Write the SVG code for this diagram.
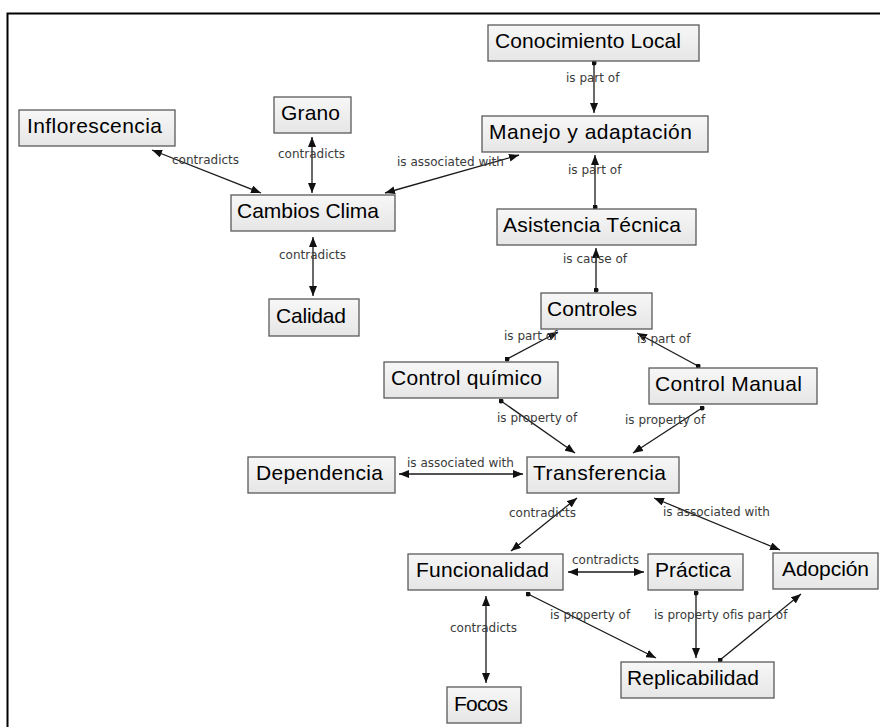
<svg xmlns="http://www.w3.org/2000/svg" width="880" height="727" viewBox="0 0 880 727">
<style>
.n rect{fill:url(#g);stroke:#5a5a5a;stroke-width:1.3}
.n text{font-family:"Liberation Sans",Arial,sans-serif;font-size:21px;fill:#000}
.e line{stroke:#1a1a1a;stroke-width:1.3;fill:none}
.l{font-family:"DejaVu Sans",sans-serif;font-size:12px;fill:#3a3a3a}
</style>
<defs>
<linearGradient id="g" x1="0" y1="0" x2="0" y2="1"><stop offset="0" stop-color="#f7f7f7"/><stop offset="1" stop-color="#e6e6e6"/></linearGradient>
<marker id="a" viewBox="0 0 10 8" refX="10" refY="4" markerWidth="10" markerHeight="8" markerUnits="userSpaceOnUse" orient="auto-start-reverse"><path d="M0,0 L10,4 L0,8 z" fill="#111"/></marker>
<marker id="d" viewBox="0 0 6 6" refX="3" refY="3" markerWidth="5" markerHeight="5" markerUnits="userSpaceOnUse"><circle cx="3" cy="3" r="3" fill="#111"/></marker>
</defs>
<rect width="880" height="727" fill="#fff"/>
<path d="M7.5,727 V13.5 H880" fill="none" stroke="#000" stroke-width="2"/>
<g class="e" id="connectors">
<line x1="152" y1="150" x2="261" y2="193" marker-start="url(#a)" marker-end="url(#a)"/>
<line x1="312" y1="137" x2="312" y2="193" marker-start="url(#a)" marker-end="url(#a)"/>
<line x1="385" y1="193" x2="519" y2="155" marker-start="url(#a)" marker-end="url(#a)"/>
<line x1="313" y1="237" x2="313" y2="296" marker-start="url(#a)" marker-end="url(#a)"/>
<line x1="594" y1="63" x2="594" y2="113" marker-start="url(#d)" marker-end="url(#a)"/>
<line x1="595" y1="207" x2="595" y2="155" marker-start="url(#d)" marker-end="url(#a)"/>
<line x1="596" y1="290" x2="596" y2="248" marker-start="url(#d)" marker-end="url(#a)"/>
<line x1="507" y1="359" x2="558" y2="332" marker-start="url(#d)" marker-end="url(#a)"/>
<line x1="698" y1="366" x2="637" y2="333" marker-start="url(#d)" marker-end="url(#a)"/>
<line x1="501" y1="401" x2="575" y2="453" marker-start="url(#d)" marker-end="url(#a)"/>
<line x1="702" y1="408" x2="633" y2="453" marker-start="url(#d)" marker-end="url(#a)"/>
<line x1="399" y1="474" x2="523" y2="474" marker-start="url(#a)" marker-end="url(#a)"/>
<line x1="577" y1="498" x2="511" y2="551" marker-start="url(#a)" marker-end="url(#a)"/>
<line x1="654" y1="498" x2="780" y2="550" marker-start="url(#a)" marker-end="url(#a)"/>
<line x1="568" y1="572" x2="644" y2="572" marker-start="url(#a)" marker-end="url(#a)"/>
<line x1="486" y1="596" x2="486" y2="683" marker-start="url(#a)" marker-end="url(#a)"/>
<line x1="528" y1="594" x2="656" y2="658" marker-start="url(#d)" marker-end="url(#a)"/>
<line x1="696" y1="593" x2="696" y2="658" marker-start="url(#d)" marker-end="url(#a)"/>
<line x1="720" y1="660" x2="801" y2="594" marker-start="url(#d)" marker-end="url(#a)"/>
<text class="l" x="172" y="164">contradicts</text>
<text class="l" x="278" y="158">contradicts</text>
<text class="l" x="397" y="166">is associated with</text>
<text class="l" x="279" y="259">contradicts</text>
<text class="l" x="566" y="82">is part of</text>
<text class="l" x="568" y="174">is part of</text>
<text class="l" x="563" y="263">is cause of</text>
<text class="l" x="504" y="340">is part of</text>
<text class="l" x="637" y="343">is part of</text>
<text class="l" x="497" y="422">is property of</text>
<text class="l" x="625" y="424">is property of</text>
<text class="l" x="407" y="467">is associated with</text>
<text class="l" x="509" y="517">contradicts</text>
<text class="l" x="663" y="516">is associated with</text>
<text class="l" x="572" y="564">contradicts</text>
<text class="l" x="450" y="632">contradicts</text>
<text class="l" x="550" y="619">is property of</text>
<text class="l" x="654" y="619">is property of</text>
<text class="l" x="734" y="619">is part of</text>
</g>
<g class="n" id="inflorescencia"><rect x="19" y="110" width="156" height="36"/><text x="27" y="133" textLength="135">Inflorescencia</text></g>
<g class="n" id="grano"><rect x="274" y="97" width="77" height="36"/><text x="281" y="120" textLength="59">Grano</text></g>
<g class="n" id="cambios-clima"><rect x="231" y="195" width="164" height="36"/><text x="237" y="218" textLength="142">Cambios Clima</text></g>
<g class="n" id="conocimiento-local"><rect x="488" y="25" width="211" height="36"/><text x="495" y="48" textLength="186">Conocimiento Local</text></g>
<g class="n" id="manejo"><rect x="482" y="116" width="226" height="36"/><text x="489" y="139" textLength="203">Manejo y adaptación</text></g>
<g class="n" id="asistencia"><rect x="497" y="209" width="199" height="36"/><text x="503" y="232" textLength="178">Asistencia Técnica</text></g>
<g class="n" id="calidad"><rect x="269" y="299" width="90" height="37"/><text x="276" y="323" textLength="70">Calidad</text></g>
<g class="n" id="controles"><rect x="541" y="293" width="111" height="36"/><text x="547" y="316" textLength="90">Controles</text></g>
<g class="n" id="control-quimico"><rect x="384" y="362" width="174" height="36"/><text x="391" y="385" textLength="151">Control químico</text></g>
<g class="n" id="control-manual"><rect x="649" y="368" width="168" height="36"/><text x="655" y="391" textLength="147">Control Manual</text></g>
<g class="n" id="dependencia"><rect x="248" y="457" width="147" height="36"/><text x="256" y="480" textLength="127">Dependencia</text></g>
<g class="n" id="transferencia"><rect x="527" y="457" width="152" height="36"/><text x="533" y="480" textLength="133">Transferencia</text></g>
<g class="n" id="funcionalidad"><rect x="408" y="554" width="155" height="36"/><text x="416" y="577" textLength="133">Funcionalidad</text></g>
<g class="n" id="practica"><rect x="648" y="554" width="95" height="36"/><text x="655" y="577" textLength="76">Práctica</text></g>
<g class="n" id="adopcion"><rect x="773" y="553" width="105" height="36"/><text x="782" y="576" textLength="87">Adopción</text></g>
<g class="n" id="replicabilidad"><rect x="621" y="662" width="153" height="36"/><text x="627" y="685" textLength="132">Replicabilidad</text></g>
<g class="n" id="focos"><rect x="447" y="687" width="74" height="36"/><text x="454" y="711" textLength="54">Focos</text></g>
</svg>
